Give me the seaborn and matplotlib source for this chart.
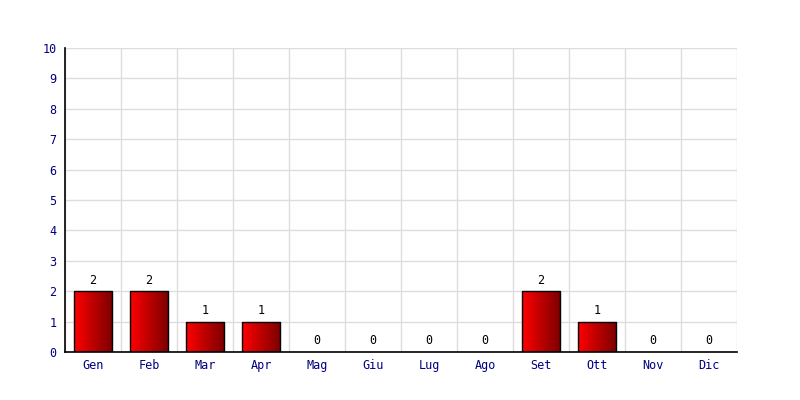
import numpy as np
import pandas as pd
import matplotlib
matplotlib.use("Agg")
import matplotlib.pyplot as plt
import seaborn as sns
from matplotlib.colors import LinearSegmentedColormap

months = ["Gen", "Feb", "Mar", "Apr", "Mag", "Giu", "Lug", "Ago", "Set", "Ott", "Nov", "Dic"]
values = [2, 2, 1, 1, 0, 0, 0, 0, 2, 1, 0, 0]

df = pd.DataFrame({"month": months, "value": values})

sns.set_style("white")
plt.rcParams["font.family"] = ["DejaVu Sans Mono"]

fig = plt.figure(figsize=(8, 4), dpi=100)
ax = fig.add_axes([65 / 800, 48 / 400, 672 / 800, 304 / 400])

sns.barplot(data=df, x="month", y="value", ax=ax, width=0.68,
            color="#cc0000", edgecolor="black", linewidth=1.0, zorder=3)

cmap = LinearSegmentedColormap.from_list("redgrad", ["#ff0000", "#7a0000"])
grad = np.linspace(0, 1, 256).reshape(1, -1)
for p in ax.patches:
    x0, y0 = p.get_x(), p.get_y()
    w, h = p.get_width(), p.get_height()
    if h <= 0:
        p.set_visible(False)
        continue
    p.set_facecolor("none")
    im = ax.imshow(grad, cmap=cmap, aspect="auto", extent=[x0, x0 + w, y0, y0 + h],
                   zorder=2.5, interpolation="bicubic")
    im.set_clip_path(p)

ax.set_xlim(-0.5, 11.5)
ax.set_ylim(0, 10)

for i, v in enumerate(values):
    ax.text(i, v + 0.15, str(v), ha="center", va="bottom", fontsize=8.5, color="black", zorder=4)

ax.set_yticks(range(0, 11))
ax.set_xticks(range(12))
ax.set_xticks(np.arange(-0.5, 12, 1), minor=True)
ax.tick_params(axis="both", which="major", labelsize=8.5, labelcolor="#000080", length=0, pad=5)
ax.tick_params(axis="x", which="minor", length=0)
ax.tick_params(axis="y", which="major", pad=6)
ax.grid(True, axis="y", which="major", color="#dddddd", linewidth=1, zorder=0)
ax.grid(True, axis="x", which="minor", color="#dddddd", linewidth=1, zorder=0)
ax.set_axisbelow(True)

for s in ["top", "right"]:
    ax.spines[s].set_visible(False)
ax.spines["left"].set_color("black")
ax.spines["bottom"].set_color("black")
ax.spines["left"].set_linewidth(1.2)
ax.spines["bottom"].set_linewidth(1.2)
ax.set_xlabel("")
ax.set_ylabel("")

fig.savefig("out.png", dpi=100)
